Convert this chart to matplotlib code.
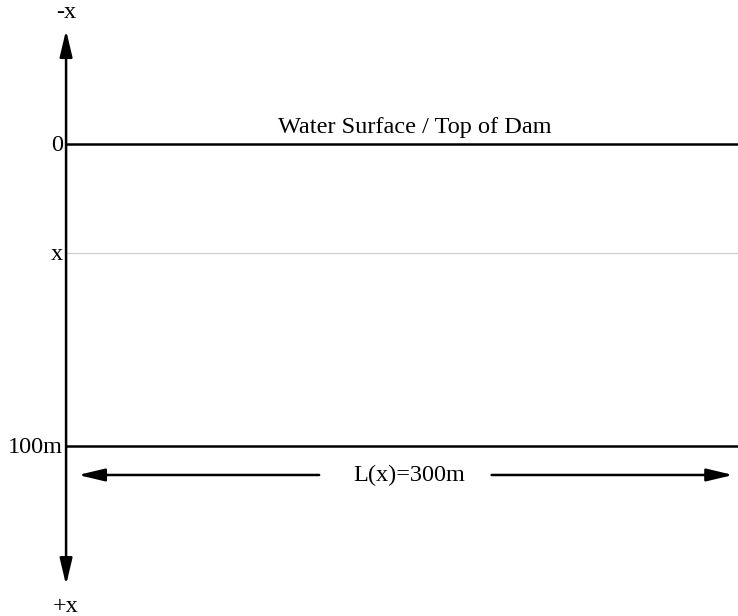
import matplotlib
matplotlib.use("Agg")
import matplotlib.pyplot as plt

# Diagram data (depth in m, downward positive; horizontal length in m)
level_depths = [0, 36, 100]
level_labels = ["0", "x", "100m"]
level_colors = ["black", "#cccccc", "black"]
level_widths = [1.8, 0.9, 1.8]
dam_length = 300
length_label = "L(x)=300m"
surface_label = "Water Surface / Top of Dam"
axis_top_label = "-x"
axis_bottom_label = "+x"

plt.rcParams['font.family'] = ['Liberation Serif', 'DejaVu Serif']

fig = plt.figure(figsize=(7.38, 6.16), dpi=100)
ax = fig.add_axes([0, 0, 1, 1])
ax.set_xlim(-29.5, 300)
ax.set_ylim(156.3, -47.7)
ax.axis('off')

fs = 17.5
akw = dict(arrowstyle='-|>,head_length=1.6,head_width=0.38', lw=1.8, color='black',
           shrinkA=0, shrinkB=0, mutation_scale=10)
akw2 = dict(akw, arrowstyle='<|-|>,head_length=1.6,head_width=0.38')
# vertical depth axis with arrows both ends
ax.annotate('', xy=(0, -37.7), xytext=(0, 146), arrowprops=akw2)
ax.text(0, -43.5, axis_top_label, ha='center', va='center', fontsize=fs)
ax.text(0, 153, axis_bottom_label, ha='center', va='center', fontsize=fs)

for d, lab, c, w in zip(level_depths, level_labels, level_colors, level_widths):
    ax.plot([0, dam_length], [d, d], color=c, lw=w, solid_capstyle='butt')
    ax.text(-1.3, d + 0.6, lab, ha='right', va='center', fontsize=fs)

ax.text(155.5, -2.0, surface_label, ha='center', va='bottom', fontsize=fs)

# length arrow with gap for label
ly = 109.6
ax.annotate('', xy=(5.4, ly), xytext=(113, ly), arrowprops=akw)
ax.annotate('', xy=(297.8, ly), xytext=(190, ly), arrowprops=akw)
ax.text(153, ly, length_label, ha='center', va='center', fontsize=fs)

fig.savefig('out.png', dpi=100)
